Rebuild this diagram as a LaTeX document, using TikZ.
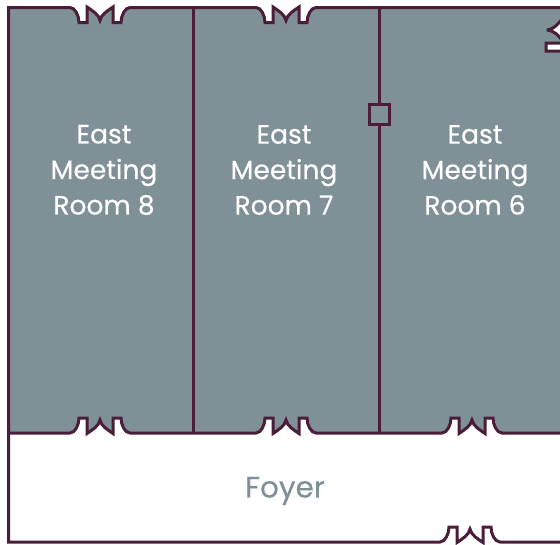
\documentclass[tikz,border=0pt]{standalone}
\usepackage{fontspec}
\setmainfont{Poppins}[FakeBold=0.35]
\usetikzlibrary{calc}
\definecolor{wallcolor}{HTML}{4A1E38}
\definecolor{roomcolor}{HTML}{7F9097}
\tikzstyle{wall}=[draw=wallcolor,line width=3pt,line join=miter,miter limit=3]
\tikzstyle{room}=[wall,fill=roomcolor]
\tikzstyle{roomlabel}=[text=white,align=center,font=\fontsize{26.5}{35.5}\selectfont]
\tikzstyle{foyerlabel}=[text=roomcolor,font=\fontsize{29.5}{35}\selectfont]
% centre, wall, direction along the wall, direction into the recess
\newcommand{\doorpath}[4]{
  -- ({#1-#3*30},#2)
  .. controls ({#1-#3*25},#2) and ({#1-#3*21},{#2+#4*8}) .. ({#1-#3*21},{#2+#4*15})
  -- ({#1-#3*13},{#2+#4*15}) -- ({#1-#3*13},{#2-#4*0.5})
  .. controls ({#1-#3*8},{#2+#4*3}) and ({#1-#3*1},{#2+#4*7}) .. ({#1},{#2+#4*13})
  .. controls ({#1+#3*1},{#2+#4*7}) and ({#1+#3*8},{#2+#4*3}) .. ({#1+#3*13},{#2-#4*0.5})
  -- ({#1+#3*13},{#2+#4*15}) -- ({#1+#3*21},{#2+#4*15})
  .. controls ({#1+#3*21},{#2+#4*8}) and ({#1+#3*25},#2) .. ({#1+#3*30},#2)
}
\begin{document}
\begin{tikzpicture}[x=1pt,y=-1pt]
\useasboundingbox (0,0) rectangle (560,544);
\clip (0,0) rectangle (560,544);

% foyer
\draw [wall] (8.5,433) -- (8.5,542) \doorpath{470}{542}{1}{-1} -- (575,542);

% rooms
\draw [room] (8.5,433) -- (8.5,7.5) \doorpath{100}{7.5}{1}{1} \doorpath{286}{7.5}{1}{1}
  -- (575,7.5) -- (575,433) \doorpath{472}{433}{-1}{-1} \doorpath{286}{433}{-1}{-1} \doorpath{100}{433}{-1}{-1} -- cycle;

% partitions
\coordinate (wall87t) at (193.5,7.5);
\coordinate (wall87b) at (193.5,433);
\coordinate (wall76t) at (379.5,7.5);
\coordinate (wall76b) at (379.5,433);
\draw [wall] (wall87t) -- (wall87b);
\draw [wall] (wall76t) -- (wall76b);
\node (post) [wall,fill=roomcolor,minimum size=20pt,inner sep=0pt,outer sep=0pt] at (379,114.5) {};

% door in the east wall
\draw [wall,fill=white] (566,14) .. controls (560,22) and (555,29) .. (547,30)
  .. controls (555,31) and (560,36) .. (563,43) -- (546,43) -- (546,51) -- (575,51) -- (575,14) -- cycle;

% labels
\node (room8) [roomlabel] at (104,170) {East\\Meeting\\Room 8};
\node (room7) [roomlabel] at (284,170) {East\\Meeting\\Room 7};
\node (room6) [roomlabel] at (475,170) {East\\Meeting\\Room 6};
\node (foyer) [foyerlabel] at (285,491) {Foyer};

\end{tikzpicture}
\end{document}
